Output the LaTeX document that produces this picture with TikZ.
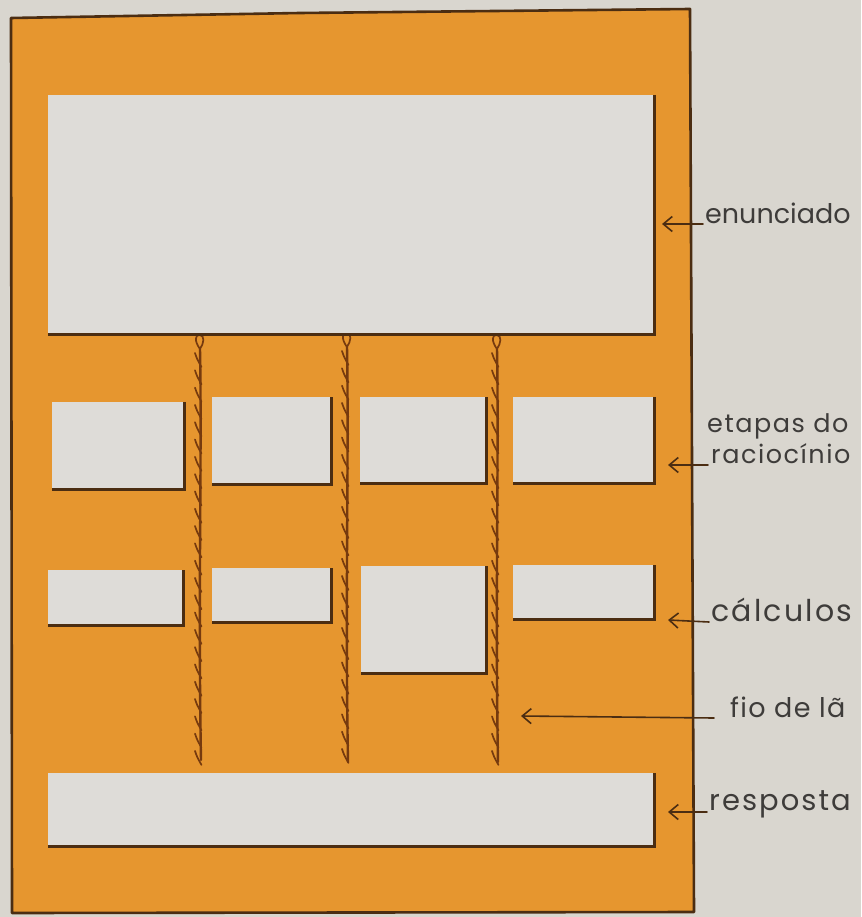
\documentclass[tikz,border=0pt]{standalone}
\usepackage{fontspec}
\setmainfont{Poppins}
\usetikzlibrary{arrows.meta}

\definecolor{paper}{HTML}{D9D6CF}
\definecolor{board}{HTML}{E6962F}
\definecolor{edge}{HTML}{4B2D12}
\definecolor{cardfill}{HTML}{DEDCD8}
\definecolor{yarn}{HTML}{763A0E}
\definecolor{ink}{HTML}{3E3C3A}

\tikzset{
  cardbox/.style={fill=cardfill, draw=none, inner sep=0pt, outer sep=0pt, anchor=north west},
  cardshadow/.style={draw=edge, line width=2.6pt, line join=miter},
  boardline/.style={draw=edge, line width=2.6pt, line join=round},
  yarnline/.style={draw=yarn, line width=2.4pt, line cap=round},
  yarnbit/.style={draw=yarn, line width=1.7pt, line cap=round},
  lbl/.style={text=ink, inner sep=0pt, anchor=base west},
  biglbl/.style={lbl, font=\fontsize{27}{30}\selectfont},
  smalllbl/.style={lbl, font=\fontsize{25.5}{28}\selectfont\addfontfeatures{LetterSpace=6}},
  pointer/.style={draw=edge, line width=1.6pt, line cap=round,
    -{Straight Barb[length=9pt,width=15pt,line width=1.6pt]}}
}

% a card: name, left, top, width, height (pixels of the sheet)
\newcommand\placecard[5]{%
  \node[cardbox, minimum width=#4pt, minimum height=#5pt] (#1) at (#2,#3) {};
  \draw[cardshadow] ([xshift=1.3pt]#1.north east) -- ([shift={(1.3pt,-1.3pt)}]#1.south east)
    -- ([yshift=-1.3pt]#1.south west);
}

% a twisted wool thread: x, top, bottom
\newcommand\woolthread[3]{%
  \draw[yarnbit] (#1,#2+14) .. controls (#1-6,#2+6) and (#1-5,#2-1) .. (#1,#2)
    .. controls (#1+5,#2+1) and (#1+4,#2+8) .. (#1,#2+14);
  \draw[yarnline] (#1,#2+14) .. controls (#1+2,#2+120) and (#1-2,#3-160) .. (#1+1,#3);
  \foreach \k in {0,...,23} {
    \draw[yarnbit] ({#1-5},{#2+18+\k*17.3}) .. controls ({#1-3},{#2+24+\k*17.3}) .. ({#1+1.5},{#2+32+\k*17.3});
  }
}

\begin{document}
\begin{tikzpicture}[x=1pt, y=-1pt]
  \fill[paper] (0,0) rectangle (861,917);
  \useasboundingbox (0,0) rectangle (861,917);

  % the orange sheet
  \filldraw[fill=board, boardline] (11,18) -- (300,13) -- (690,9) -- (694,912) -- (12,913) -- cycle;

  % wool threads tying the columns together
  \woolthread{200}{335}{760}
  \woolthread{347}{333}{762}
  \woolthread{497}{335}{762}

  % cards
  \placecard{enun}{48}{95}{605}{238}
  \placecard{e1}{52}{402}{131}{86}
  \placecard{e2}{212}{397}{118}{86}
  \placecard{e3}{360}{397}{125}{85}
  \placecard{e4}{513}{397}{140}{85}
  \placecard{c1}{48}{570}{134}{54}
  \placecard{c2}{212}{568}{118}{53}
  \placecard{c3}{361}{566}{124}{106}
  \placecard{c4}{513}{565}{140}{53}
  \placecard{resp}{48}{773}{605}{72}

  % labels
  \node[biglbl] (tEnun) at (705,224) {enunciado};
  \node[smalllbl] (tEt1) at (707,432) {etapas do};
  \node[smalllbl] (tEt2) at (711,463) {raciocínio};
  \node[biglbl, font=\fontsize{30}{32}\selectfont\addfontfeatures{LetterSpace=7.5}] (tCalc) at (711,621) {cálculos};
  \node[biglbl, font=\fontsize{27}{30}\selectfont\addfontfeatures{LetterSpace=5}] (tFio) at (730,717) {fio de lã};
  \node[biglbl, font=\fontsize{29}{31}\selectfont\addfontfeatures{LetterSpace=7}] (tResp) at (709,810) {resposta};

  % arrow tips
  \coordinate (pEnun) at (662,224);
  \coordinate (pEt) at (668,465);
  \coordinate (pCalc) at (668,620);
  \coordinate (pFio) at (521,716);
  \coordinate (pResp) at (668,812);

  \draw[pointer] ([xshift=-2pt]tEnun.base west) -- (pEnun);
  \draw[pointer] ([shift={(-3pt,-2pt)}]tEt2.base west) -- (pEt);
  \draw[pointer] ([shift={(-2pt,-1pt)}]tCalc.base west) -- (pCalc);
  \draw[pointer] ([shift={(-16pt,-1pt)}]tFio.base west) -- (pFio);
  \draw[pointer] ([shift={(-2pt,-2pt)}]tResp.base west) -- (pResp);
\end{tikzpicture}
\end{document}
